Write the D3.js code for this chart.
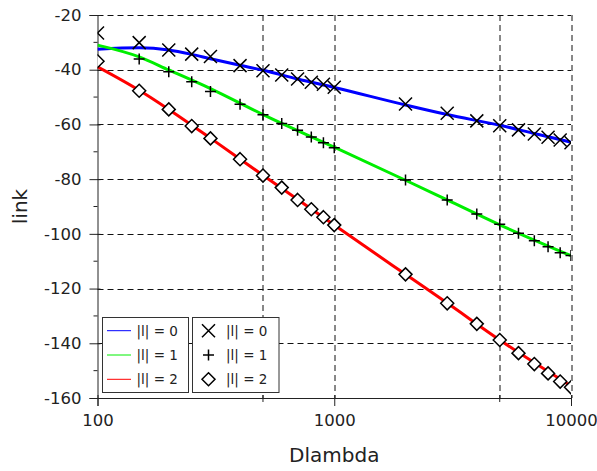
<!DOCTYPE html>
<html>
<head>
<meta charset="utf-8">
<script src="https://cdn.jsdelivr.net/npm/d3@7"></script>
<style>
  body { margin: 0; background: #fff; }
  svg { display: block; font-family: "DejaVu Sans", sans-serif; }
</style>
</head>
<body>
<svg id="chart"></svg>
<script>
// fitted curves
var lineX0 = [100, 150, 200, 250, 300, 400, 500, 700, 1000, 2000, 3000, 5000, 7000, 10000];
var lineY0 = [-32.5, -32.0, -32.8, -34.4, -36.0, -38.4, -40.2, -43.4, -46.5, -52.9, -56.4, -60.3, -63.3, -66.5];
var lineX1 = [100, 150, 200, 300, 500, 1000, 2000, 3000, 5000, 10000];
var lineY1 = [-31.0, -35.3, -40.1, -46.9, -56.4, -68.3, -80.4, -87.6, -96.7, -108.0];
var lineX2 = [100, 150, 200, 300, 500, 1000, 2000, 3000, 5000, 10000];
var lineY2 = [-38.9, -47.5, -54.5, -65.0, -78.6, -96.8, -114.8, -125.3, -138.8, -155.6];

// measured points
var ptsX0 = [100, 150, 200, 250, 300, 400, 500, 600, 700, 800, 900, 1000, 2000, 3000, 4000, 5000, 6000, 7000, 8000, 9000, 10000];
var ptsY0 = [-26.6, -30.1, -32.8, -34.3, -35.2, -38.5, -40.4, -41.9, -43.4, -44.6, -45.3, -46.4, -52.5, -55.9, -58.7, -60.5, -62.0, -63.5, -64.7, -65.7, -66.7];
var ptsX1 = [150, 200, 250, 300, 400, 500, 600, 700, 800, 900, 1000, 2000, 3000, 4000, 5000, 6000, 7000, 8000, 9000, 10000];
var ptsY1 = [-36.1, -40.7, -44.4, -48.0, -52.6, -56.5, -59.7, -62.1, -64.6, -66.7, -68.5, -80.3, -87.6, -92.7, -96.5, -99.8, -102.5, -104.7, -106.9, -107.9];
var ptsX2 = [100, 150, 200, 250, 300, 400, 500, 600, 700, 800, 900, 1000, 2000, 3000, 4000, 5000, 6000, 7000, 8000, 9000, 10000];
var ptsY2 = [-36.9, -47.7, -54.5, -60.6, -65.1, -72.7, -78.7, -83.1, -87.6, -91.0, -93.9, -96.8, -114.8, -125.4, -132.9, -138.8, -143.6, -147.6, -151.0, -154.0, -156.1];

var lineLabels = ["|l| = 0", "|l| = 1", "|l| = 2"];
var lineColors = ["#0000ff", "#00ee00", "#ff0000"];

var xMajor = [100, 1000, 10000];
var xMinor = [500, 5000];
var yMajor = [-20, -40, -60, -80, -100, -120, -140, -160];
var yMinor = [-30, -50, -70, -90, -110, -130, -150];

function zip(xs, ys) {
    return xs.map(function(x, i) { return {x: x, y: ys[i]}; });
}

var markerPaths = [
    "M-6.5,-6.5L6.5,6.5M-6.5,6.5L6.5,-6.5",
    "M-5.5,0L5.5,0M0,-5.5L0,5.5",
    "M0,-6.5L6.5,0L0,6.5L-6.5,0Z"
];

drawChart();

function drawChart() {
    var svgWidth = 597;
    var svgHeight = 471;
    var margin = {top: 15, right: 26, bottom: 73, left: 97.5};
    var width = svgWidth - margin.left - margin.right;
    var height = svgHeight - margin.top - margin.bottom;
    var ink = "#222";

    var svg = d3.select("#chart")
                .attr("width", svgWidth)
                .attr("height", svgHeight);

    svg.append("defs").append("clipPath")
        .attr("id", "plotclip")
        .append("rect")
        .attr("width", width)
        .attr("height", height);

    var g = svg.append("g")
                .attr("transform", "translate(" + margin.left + "," + margin.top + ")");

    var x = d3.scaleLog()
                .domain([100, 10000])
                .range([0, width]);

    var y = d3.scaleLinear()
                .domain([-160, -20])
                .range([height, 0]);

    // grid
    g.append("g").selectAll("line")
        .data(xMinor.concat([1000, 10000]))
        .enter().append("line")
        .attr("x1", function(d) { return Math.round(x(d)) + 0.5; })
        .attr("x2", function(d) { return Math.round(x(d)) + 0.5; })
        .attr("y1", 0)
        .attr("y2", height)
        .attr("stroke", "#111")
        .attr("stroke-dasharray", "6,4");

    g.append("g").selectAll("line")
        .data(yMajor)
        .enter().append("line")
        .attr("x1", 0)
        .attr("x2", width)
        .attr("y1", function(d) { return Math.round(y(d)) + 0.5; })
        .attr("y2", function(d) { return Math.round(y(d)) + 0.5; })
        .attr("stroke", "#111")
        .attr("stroke-dasharray", "6,4");

    // axes
    var xAxis = g.append("g")
        .attr("transform", "translate(0," + height + ")")
        .call(d3.axisBottom(x).tickValues(xMajor).tickFormat(d3.format("d")).tickSize(8).tickPadding(8));
    xAxis.append("g").selectAll("line")
        .data(xMinor)
        .enter().append("line")
        .attr("x1", function(d) { return x(d); })
        .attr("x2", function(d) { return x(d); })
        .attr("y1", -3)
        .attr("y2", 4)
        .attr("stroke", ink);

    var yAxis = g.append("g")
        .call(d3.axisLeft(y).tickValues(yMajor).tickFormat(function(d) { return String(d); }).tickSize(8).tickPadding(8));
    yAxis.append("g").selectAll("line")
        .data(yMinor)
        .enter().append("line")
        .attr("y1", function(d) { return y(d); })
        .attr("y2", function(d) { return y(d); })
        .attr("x1", -4)
        .attr("x2", 0)
        .attr("stroke", ink);

    [xAxis, yAxis].forEach(function(a) {
        a.selectAll(".domain").attr("stroke", ink);
        a.selectAll(".tick line").attr("stroke", ink);
        a.selectAll(".tick text")
            .attr("fill", ink)
            .style("font-size", "16.5px")
            .style("font-family", "DejaVu Sans");
    });
    xAxis.selectAll(".tick line").attr("y1", -3);
    yAxis.selectAll(".tick line").attr("x1", 3);

    svg.append("text")
        .attr("x", margin.left + width / 2)
        .attr("y", 462)
        .attr("text-anchor", "middle")
        .attr("fill", ink)
        .style("font-size", "20px")
        .text("Dlambda");

    svg.append("text")
        .attr("transform", "translate(27," + (margin.top + height / 2) + ") rotate(-90)")
        .attr("text-anchor", "middle")
        .attr("fill", ink)
        .style("font-size", "20px")
        .text("link");

    // curves
    var line = d3.line()
                .x(function(d) { return x(d.x); })
                .y(function(d) { return y(d.y); })
                .curve(d3.curveMonotoneX);

    var plot = g.append("g").attr("clip-path", "url(#plotclip)");
    var curves = [zip(lineX0, lineY0), zip(lineX1, lineY1), zip(lineX2, lineY2)];
    curves.forEach(function(c, i) {
        plot.append("path")
            .datum(c)
            .attr("fill", "none")
            .attr("stroke", lineColors[i])
            .attr("stroke-width", 3)
            .attr("stroke-linejoin", "round")
            .attr("d", line);
    });

    // points
    var points = [zip(ptsX0, ptsY0), zip(ptsX1, ptsY1), zip(ptsX2, ptsY2)];
    points.forEach(function(p, i) {
        plot.append("g").selectAll("path")
            .data(p)
            .enter().append("path")
            .attr("transform", function(d) { return "translate(" + x(d.x) + "," + y(d.y) + ")"; })
            .attr("d", markerPaths[i])
            .attr("fill", i == 2 ? "#fff" : "none")
            .attr("stroke", "#000")
            .attr("stroke-width", 1.5);
    });

    // legends
    var rowY = [330.7, 355, 379.3];
    var leg1 = svg.append("g");
    leg1.append("rect")
        .attr("x", 102.5).attr("y", 317.5)
        .attr("width", 86).attr("height", 75)
        .attr("fill", "#fff").attr("stroke", "#333");
    lineLabels.forEach(function(t, i) {
        leg1.append("line")
            .attr("x1", 107).attr("x2", 131)
            .attr("y1", rowY[i]).attr("y2", rowY[i])
            .attr("stroke", lineColors[i]);
        leg1.append("text")
            .attr("x", 136.5).attr("y", rowY[i] + 4.8)
            .attr("fill", ink)
            .style("font-size", "13.5px")
            .text(t);
    });

    var leg2 = svg.append("g");
    leg2.append("rect")
        .attr("x", 192.5).attr("y", 317.5)
        .attr("width", 86.5).attr("height", 75)
        .attr("fill", "#fff").attr("stroke", "#333");
    lineLabels.forEach(function(t, i) {
        leg2.append("path")
            .attr("transform", "translate(208.5," + rowY[i] + ")")
            .attr("d", markerPaths[i])
            .attr("fill", i == 2 ? "#fff" : "none")
            .attr("stroke", "#000")
            .attr("stroke-width", 1.5);
        leg2.append("text")
            .attr("x", 226).attr("y", rowY[i] + 4.8)
            .attr("fill", ink)
            .style("font-size", "13.5px")
            .text(t);
    });
}
</script>
</body>
</html>
